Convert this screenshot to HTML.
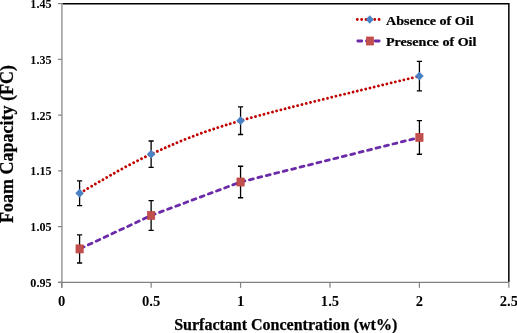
<!DOCTYPE html><html><head><meta charset="utf-8"><style>html,body{margin:0;padding:0;background:#fff;}body{width:517px;height:333px;overflow:hidden;}svg{display:block;will-change:transform;}text{font-family:"Liberation Serif",serif;font-weight:bold;fill:#000;stroke:#000;stroke-width:0.25px;}</style></head><body>
<svg width="517" height="333" viewBox="0 0 517 333">
<path d="M62.5,3.75 H508.85 V282" fill="none" stroke="#000" stroke-width="1.5"/>
<path d="M61.95,3 V287.8" stroke="#808080" stroke-width="1.2" fill="none"/>
<path d="M58,282.4 H509" stroke="#808080" stroke-width="1.2" fill="none"/>
<path d="M58,282.36 H61.95" stroke="#808080" stroke-width="1.2"/>
<text x="51.5" y="286.96" font-size="12.1" text-anchor="end" style="stroke:none">0.95</text>
<path d="M58,226.61 H61.95" stroke="#808080" stroke-width="1.2"/>
<text x="51.5" y="231.21" font-size="12.1" text-anchor="end" style="stroke:none">1.05</text>
<path d="M58,170.86 H61.95" stroke="#808080" stroke-width="1.2"/>
<text x="51.5" y="175.46" font-size="12.1" text-anchor="end" style="stroke:none">1.15</text>
<path d="M58,115.11 H61.95" stroke="#808080" stroke-width="1.2"/>
<text x="51.5" y="119.71" font-size="12.1" text-anchor="end" style="stroke:none">1.25</text>
<path d="M58,59.36 H61.95" stroke="#808080" stroke-width="1.2"/>
<text x="51.5" y="63.96" font-size="12.1" text-anchor="end" style="stroke:none">1.35</text>
<path d="M58,3.61 H61.95" stroke="#808080" stroke-width="1.2"/>
<text x="51.5" y="8.21" font-size="12.1" text-anchor="end" style="stroke:none">1.45</text>
<path d="M61.70,282.4 V287.8" stroke="#808080" stroke-width="1.2"/>
<text x="61.70" y="305.8" font-size="14.6" text-anchor="middle" style="stroke:none">0</text>
<path d="M151.13,282.4 V287.8" stroke="#808080" stroke-width="1.2"/>
<text x="151.13" y="305.8" font-size="14.6" text-anchor="middle" style="stroke:none">0.5</text>
<path d="M240.56,282.4 V287.8" stroke="#808080" stroke-width="1.2"/>
<text x="240.56" y="305.8" font-size="14.6" text-anchor="middle" style="stroke:none">1</text>
<path d="M329.99,282.4 V287.8" stroke="#808080" stroke-width="1.2"/>
<text x="329.99" y="305.8" font-size="14.6" text-anchor="middle" style="stroke:none">1.5</text>
<path d="M419.42,282.4 V287.8" stroke="#808080" stroke-width="1.2"/>
<text x="419.42" y="305.8" font-size="14.6" text-anchor="middle" style="stroke:none">2</text>
<path d="M508.85,282.4 V287.8" stroke="#808080" stroke-width="1.2"/>
<text x="508.85" y="305.8" font-size="14.6" text-anchor="middle" style="stroke:none">2.5</text>
<text x="285.7" y="329.5" font-size="16" text-anchor="middle">Surfactant Concentration (wt%)</text>
<text transform="translate(12.6,144) rotate(-90)" x="0" y="0" font-size="18" text-anchor="middle">Foam Capacity (FC)</text>
<path d="M79.59,180.78 V205.54 M76.99,180.78 H82.19 M76.99,205.54 H82.19" stroke="#000" stroke-width="1.3" fill="none"/>
<path d="M151.13,140.98 V167.29 M148.53,140.98 H153.73 M148.53,167.29 H153.73" stroke="#000" stroke-width="1.3" fill="none"/>
<path d="M240.56,106.86 V134.51 M237.96,106.86 H243.16 M237.96,134.51 H243.16" stroke="#000" stroke-width="1.3" fill="none"/>
<path d="M419.42,61.37 V90.80 M416.82,61.37 H422.02 M416.82,90.80 H422.02" stroke="#000" stroke-width="1.3" fill="none"/>
<path d="M79.59,234.83 V262.99 M76.99,234.83 H82.19 M76.99,262.99 H82.19" stroke="#000" stroke-width="1.3" fill="none"/>
<path d="M151.13,200.55 V230.37 M148.53,200.55 H153.73 M148.53,230.37 H153.73" stroke="#000" stroke-width="1.3" fill="none"/>
<path d="M240.56,166.26 V197.76 M237.96,166.26 H243.16 M237.96,197.76 H243.16" stroke="#000" stroke-width="1.3" fill="none"/>
<path d="M419.42,120.55 V154.27 M416.82,120.55 H422.02 M416.82,154.27 H422.02" stroke="#000" stroke-width="1.3" fill="none"/>
<path d="M79.59,193.16 C91.51,186.66 124.30,166.21 151.13,154.14 C177.96,142.06 195.84,133.69 240.56,120.69 C285.27,107.68 389.61,83.52 419.42,76.08" fill="none" stroke="#C00000" stroke-width="2.85" stroke-linecap="round" stroke-dasharray="0.01 4.35" stroke-dashoffset="-0.9"/>
<path d="M79.59,248.91 L151.13,215.46 L240.56,182.01 L419.42,137.41" fill="none" stroke="#6B2AA8" stroke-width="2.8" stroke-linecap="round" stroke-linejoin="round" stroke-dasharray="4.0 4.7" stroke-dashoffset="-0.9"/>
<path d="M79.59,188.76 L83.89,193.16 L79.59,197.56 L75.29,193.16 Z" fill="#4A80C4"/>
<path d="M151.13,149.74 L155.43,154.14 L151.13,158.54 L146.83,154.14 Z" fill="#4A80C4"/>
<path d="M240.56,116.28 L244.86,120.69 L240.56,125.09 L236.26,120.69 Z" fill="#4A80C4"/>
<path d="M419.42,71.68 L423.72,76.08 L419.42,80.48 L415.12,76.08 Z" fill="#4A80C4"/>
<rect x="75.94" y="244.86" width="7.3" height="8.1" fill="#C0504D" stroke="#C43E3A" stroke-width="0.6"/>
<rect x="147.48" y="211.41" width="7.3" height="8.1" fill="#C0504D" stroke="#C43E3A" stroke-width="0.6"/>
<rect x="236.91" y="177.96" width="7.3" height="8.1" fill="#C0504D" stroke="#C43E3A" stroke-width="0.6"/>
<rect x="415.77" y="133.36" width="7.3" height="8.1" fill="#C0504D" stroke="#C43E3A" stroke-width="0.6"/>
<path d="M357.3,19.5 H381" fill="none" stroke="#C00000" stroke-width="2.85" stroke-linecap="round" stroke-dasharray="0.01 4.35"/>
<path d="M369.80,15.20 L373.80,19.45 L369.80,23.70 L365.80,19.45 Z" fill="#4A80C4"/>
<path d="M357.8,41 H381" fill="none" stroke="#6B2AA8" stroke-width="2.8" stroke-linecap="round" stroke-dasharray="4.0 4.7"/>
<rect x="366.35" y="36.95" width="7.3" height="8.1" fill="#C0504D" stroke="#C43E3A" stroke-width="0.6"/>
<text transform="translate(386,25.2) scale(1,0.95)" font-size="13.6" textLength="87.6" lengthAdjust="spacingAndGlyphs">Absence of Oil</text>
<text transform="translate(386,46.1) scale(1,0.95)" font-size="13.6" textLength="90.4" lengthAdjust="spacingAndGlyphs">Presence of Oil</text>
</svg></body></html>
